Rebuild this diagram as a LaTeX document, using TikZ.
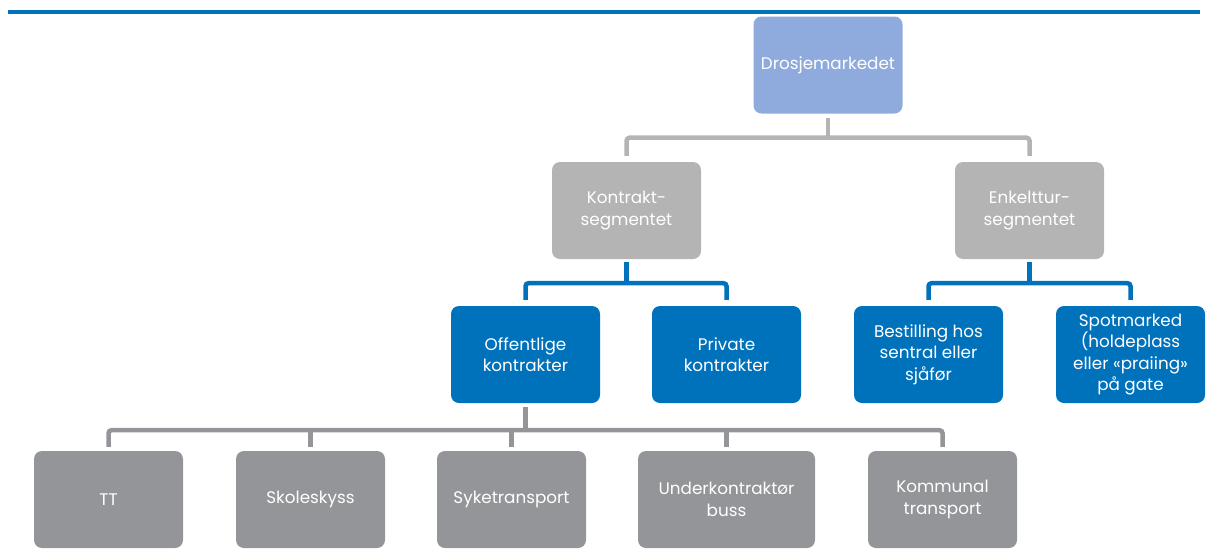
\documentclass[tikz,border=0pt]{standalone}
\usepackage{fontspec}
\setmainfont{Poppins}
\definecolor{topblue}{RGB}{143,170,220}
\definecolor{lgray}{RGB}{180,180,180}
\definecolor{mblue}{RGB}{0,114,188}
\definecolor{dgray}{RGB}{147,149,152}
\tikzset{
  box/.style={rectangle, rounded corners=8pt, minimum width=149pt, minimum height=97pt,
    inner sep=0pt, align=center, text=white, font=\fontsize{16.8}{21.5}\selectfont},
  topbox/.style={box, fill=topblue},
  segbox/.style={box, fill=lgray},
  bluebox/.style={box, fill=mblue},
  leafbox/.style={box, fill=dgray},
  conn/.style={line width=4.5pt, rounded corners=3pt},
  lconn/.style={conn, draw=lgray},
  bconn/.style={conn, draw=mblue},
  dconn/.style={conn, draw=dgray},
}
\begin{document}
\begin{tikzpicture}[x=1pt,y=-1pt]
\useasboundingbox (0,0) rectangle (1207,549);
\draw[mblue, line width=3.5pt] (8,12) -- (1200,12);

\node[topbox] (d) at (828,65) {Drosjemarkedet};
\node[segbox] (k) at (626.5,210.5) {Kontrakt-\\segmentet};
\node[segbox] (e) at (1029.5,210.5) {Enkelttur-\\segmentet};
\node[bluebox] (o) at (525.5,354.5) {Offentlige\\kontrakter};
\node[bluebox] (p) at (726.5,354.5) {Private\\kontrakter};
\node[bluebox] (b) at (928.5,354.5) {Bestilling hos\\sentral eller\\sjåfør};
\node[bluebox] (s) at (1130.5,354.5) {Spotmarked\\(holdeplass\\eller «praiing»\\på gate};
\node[leafbox] (tt) at (108.5,499.5) {TT};
\node[leafbox] (sk) at (310.5,499.5) {Skoleskyss};
\node[leafbox] (sy) at (511.5,499.5) {Syketransport};
\node[leafbox, minimum width=177pt] (un) at (726.5,499.5) {Underkontraktør\\buss};
\node[leafbox] (ko) at (942.5,499.5) {Kommunal\\transport};

% top level
\coordinate (m1) at ([yshift=-24pt]d.south);
\draw[lconn] ([yshift=-4pt]d.south) -- (m1);
\draw[lconn] ([yshift=6pt]k.north) |- (m1) -| ([yshift=6pt]e.north);

% kontrakt
\coordinate (m2) at ([yshift=-24pt]k.south);
\draw[bconn] ([yshift=-3pt]k.south) -- (m2);
\draw[bconn] ([yshift=6pt]o.north) |- (m2) -| ([yshift=6pt]p.north);

% enkelttur
\coordinate (m3) at ([yshift=-24pt]e.south);
\draw[bconn] ([yshift=-3pt]e.south) -- (m3);
\draw[bconn] ([yshift=6pt]b.north) |- (m3) -| ([yshift=6pt]s.north);

% offentlige
\coordinate (m4) at ([yshift=-27pt]o.south);
\draw[dconn] ([yshift=-4pt]o.south) -- (m4);
\draw[dconn] ([yshift=4pt]tt.north) |- (m4) -| ([yshift=4pt]ko.north);
\draw[dconn] ([yshift=4pt]sk.north) -- (sk.north |- m4);
\draw[dconn] ([yshift=4pt]sy.north) -- (sy.north |- m4);
\draw[dconn] ([yshift=4pt]un.north) -- (un.north |- m4);
\end{tikzpicture}
\end{document}
